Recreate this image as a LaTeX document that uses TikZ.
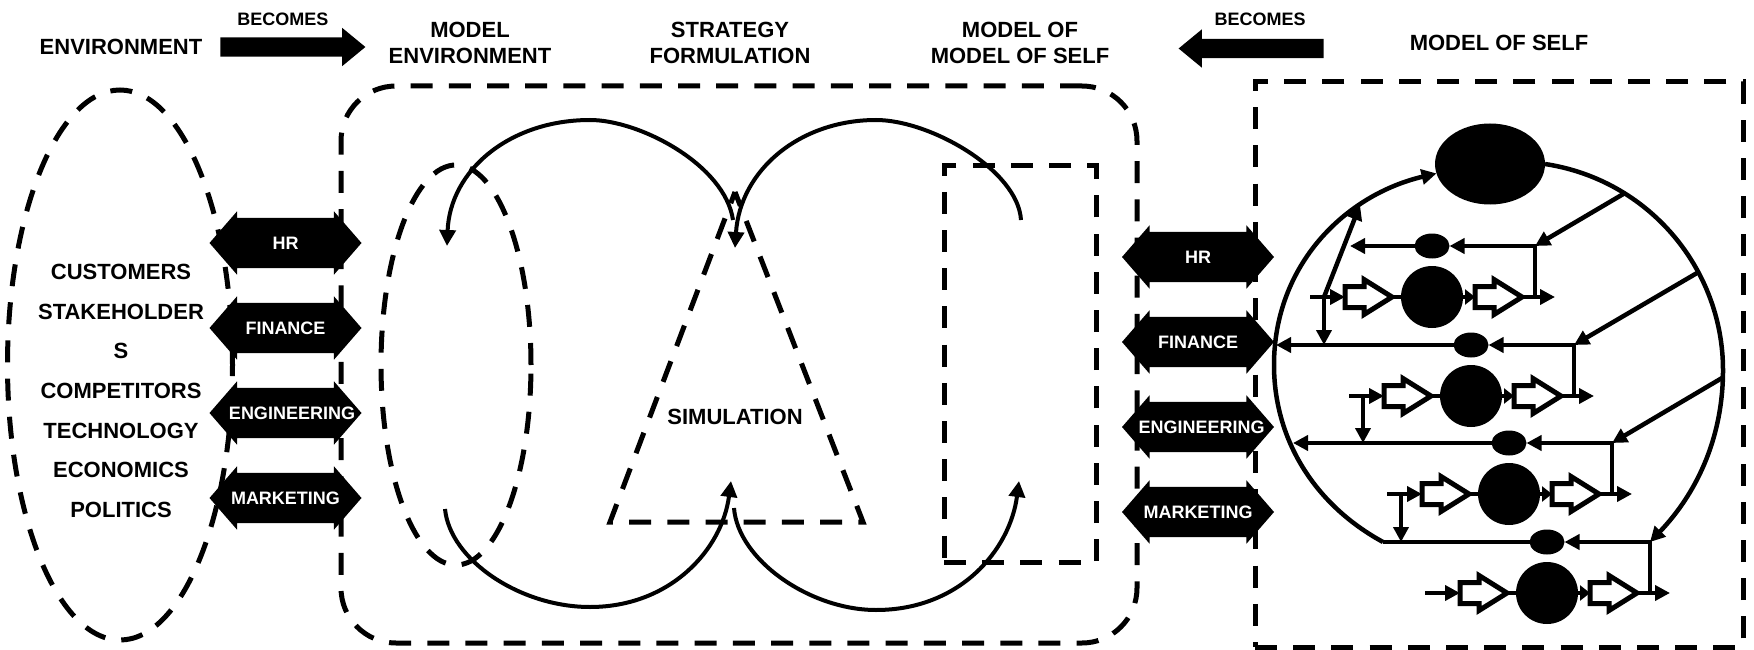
\documentclass[tikz,border=0pt]{standalone}
\usepackage{fontspec}
\setmainfont{Liberation Sans}
\usetikzlibrary{arrows.meta,positioning,shapes.geometric,shapes.arrows}

\tikzset{
  heading/.style={font=\bfseries\fontsize{22}{26}\selectfont,align=center,inner sep=0pt},
  becomes/.style={font=\bfseries\fontsize{18}{20}\selectfont,inner sep=0pt},
  dashline/.style={line width=5pt,outer sep=0pt,dash pattern=on 22pt off 16.2pt},
  curveline/.style={line width=4pt,-{Triangle[length=16pt,width=16pt]}},
  wire/.style={line width=4.5pt},
  tipped/.style={-{Triangle[length=15pt,width=15pt]}},
  bigarrow/.style={single arrow,fill=black,inner sep=0pt,outer sep=0pt,text height=9.5pt,text depth=9.5pt,minimum width=38pt,minimum height=145pt,
    single arrow head extend=9.5pt,single arrow tip angle=79},
  dept/.style={double arrow,fill=black,text=white,inner sep=0pt,outer sep=0pt,text height=31.5pt,text depth=18.5pt,minimum width=63pt,minimum height=152pt,
    double arrow head extend=6.5pt,double arrow tip angle=98,font=\bfseries\fontsize{18}{20}\selectfont},
  hollow/.style={single arrow,draw,fill=white,line width=5pt,inner sep=0pt,outer sep=0pt,text height=8pt,text depth=8pt,minimum width=30pt,minimum height=47pt,
    single arrow head extend=7pt,single arrow tip angle=64},
  hub/.style={circle,fill=black,inner sep=0pt,outer sep=0pt,minimum size=62pt},
  gate/.style={ellipse,fill=black,inner sep=0pt,outer sep=0pt,minimum width=35pt,minimum height=25pt}
}

\begin{document}
\begin{tikzpicture}[x=1pt,y=-1pt]
  \useasboundingbox (0,0) rectangle (1754,650);

  % headings
  \node[heading] (environment) at (121,46.5) {ENVIRONMENT};
  \node[heading] (modelenv) at (470,42.5) {MODEL\\ENVIRONMENT};
  \node[heading] (strategy) at (730,42.5) {STRATEGY\\FORMULATION};
  \node[heading] (modelmodel) at (1020,42.5) {MODEL OF\\MODEL OF SELF};
  \node[heading] (modelself) at (1499,42.5) {MODEL OF SELF};
  \node[becomes] (becomesleft) at (283,19) {BECOMES};
  \node[becomes] (becomesright) at (1260,19) {BECOMES};
  \node[bigarrow] (arrowleft) at (287,47) {};
  \node[bigarrow,shape border rotate=180] (arrowright) at (1257,48.5) {};

  % environment
  \node[draw,ellipse,dashline,minimum width=225pt,minimum height=550pt] (envring) at (120,365) {};
  \node[heading,font=\bfseries\fontsize{22}{39.7}\selectfont] (envlist) at (121,391)
    {CUSTOMERS\\STAKEHOLDER\\S\\COMPETITORS\\TECHNOLOGY\\ECONOMICS\\POLITICS};

  % strategy box
  \node[draw,dashline,rounded corners=55pt,minimum width=796pt,minimum height=557pt] (stratbox) at (739,364.5) {};
  \node[draw,ellipse,dashline,minimum width=150pt,minimum height=400pt] (envmodel) at (456,365) {};
  \node[draw,dashline,minimum width=152pt,minimum height=396pt] (selfmodel) at (1020,364) {};
  \coordinate (apex) at (735,192);
  \coordinate (baseleft) at (610,522);
  \coordinate (baseright) at (863,522);
  \draw[dashline,dash phase=10pt] (apex) -- (baseleft) -- (baseright) -- cycle;
  \node[heading] (simulation) at (735,416.5) {SIMULATION};

  % the four loops
  \coordinate (envfrom) at (733,220);
  \coordinate (envto) at (447,246);
  \coordinate (selffrom) at (1021,220);
  \coordinate (selfto) at (735,248);
  \coordinate (backfrom) at (445,509);
  \coordinate (backto) at (731,481);
  \coordinate (outfrom) at (734,508);
  \coordinate (outto) at (1019,481);
  \draw[curveline] (envfrom) .. controls (725,165) and (640,120) .. (590,120) .. controls (510,120) and (450,170) .. (envto);
  \draw[curveline] (selffrom) .. controls (1018,170) and (930,120) .. (876,120) .. controls (800,120) and (740,170) .. (selfto);
  \draw[curveline] (backfrom) .. controls (450,560) and (520,607) .. (590,607) .. controls (670,607) and (722,550) .. (backto);
  \draw[curveline] (outfrom) .. controls (738,560) and (810,610) .. (876,610) .. controls (960,610) and (1010,550) .. (outto);

  % model of self
  \node[draw,dashline,minimum width=488pt,minimum height=565pt] (selfbox) at (1499,364.5) {};
  \node[ellipse,fill=black,inner sep=0pt,outer sep=0pt,minimum width=110pt,minimum height=81pt] (head) at (1490,164) {};

  \foreach \row/\cx/\cy/\outx/\tip in {a/1432/297/1350/tipped,b/1471/396/1276/tipped,c/1509/494/1293/tipped,d/1547/593/1383/wire} {
    \node[hub] (hub\row) at (\cx,\cy) {};
    \node[gate,above=7.5pt of hub\row] (gate\row) {};
    \node[hollow,left=9pt of hub\row] (in\row) {};
    \node[hollow,right=12pt of hub\row] (out\row) {};
    \coordinate (start\row) at ([xshift=-122pt]hub\row.center);
    \coordinate (tap\row) at ([xshift=-108pt]hub\row.center);
    \coordinate (end\row) at ([xshift=123pt]hub\row.center);
    \coordinate (corner\row) at ([xshift=103pt]gate\row.center);
    \coordinate (leave\row) at (\outx,\cy-51);
    \draw[wire,tipped] (start\row) -- (in\row.west);
    \draw[wire] (in\row.east) -- (hub\row.west);
    \draw[wire,-{Triangle[length=10pt,width=15pt]}] (hub\row.east) -- (out\row.west);
    \draw[wire,tipped] (out\row.east) -- (end\row);
    \draw[wire,tipped] (corner\row |- hub\row) -- (corner\row) -- (gate\row.east);
    \draw[wire,\tip] (gate\row.west) -- (leave\row);
  }

  \coordinate (rimtop) at (1360,205);
  \draw[wire,tipped] (tapa) -- (rimtop);
  \draw[wire,tipped] (tapa) -- (tapa |- gateb);
  \draw[wire,tipped] (tapb) -- (tapb |- gatec);
  \draw[wire,tipped] (tapc) -- (tapc |- gated);

  \coordinate (rima) at (1625,193);
  \coordinate (rimb) at (1697,273);
  \coordinate (rimc) at (1722,378);
  \draw[wire,tipped] (rima) -- (cornera);
  \draw[wire,tipped] (rimb) -- (cornerb);
  \draw[wire,tipped] (rimc) -- (cornerc);
  \draw[wire,tipped] (head.east) .. controls (1650,180) and (1723,270) .. (1723,370) .. controls (1723,440) and (1695,495) .. (cornerd);
  \draw[wire,tipped] (leaved) .. controls (1315,505) and (1274,440) .. (1274,365) .. controls (1274,265) and (1345,195) .. (head.190);

  % departments
  \foreach \key/\lbl/\ly/\ry/\lkern/\rkern in {hr/HR/243/257/0/0,fin/FINANCE/328/342/0/0,eng/ENGINEERING/413/427/13/7,mkt/MARKETING/498/512/0/0} {
    \node[dept] (left\key) at (285.5,\ly) {\makebox[0pt]{\hspace*{\lkern pt}\lbl}};
    \node[dept] (right\key) at (1198,\ry) {\makebox[0pt]{\hspace*{\rkern pt}\lbl}};
  }
\end{tikzpicture}
\end{document}
